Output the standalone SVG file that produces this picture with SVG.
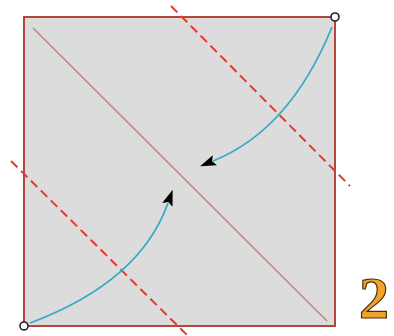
<svg xmlns="http://www.w3.org/2000/svg" width="394" height="336" viewBox="0 0 394 336">
<style>
.sq{fill:#dcdcdc;stroke:#b5463c;stroke-width:2}
.diag{stroke:#b98a7e;stroke-width:1.6;fill:none}
.dash{stroke:#e8382e;stroke-width:2;stroke-dasharray:9,5;fill:none}
.cur{stroke:#3aaac6;stroke-width:1.8;fill:none;marker-end:url(#ah)}
.pt{fill:#fff;stroke:#222;stroke-width:1.6}
.num{font-family:"Liberation Serif",serif;font-weight:bold;font-size:60px;fill:#f2a12a;stroke:#4a3010;stroke-width:1.2}
</style>
<defs>
<marker id="ah" viewBox="0 0 16 11" refX="2" refY="5.5" markerWidth="16" markerHeight="11" markerUnits="userSpaceOnUse" orient="auto">
<path d="M0,0 L16,5.5 L0,11 L3,5.5 Z" fill="#000"/>
</marker>
</defs>
<g id="paper">
<rect class="sq" x="24" y="17" width="311" height="309"/>
<line class="diag" x1="33" y1="28" x2="327" y2="321"/>
</g>
<g id="folds">
<line class="dash" x1="171" y1="6" x2="350" y2="186"/>
<line class="dash" x1="11" y1="161" x2="187" y2="335"/>
</g>
<g id="connectors">
<path class="cur" d="M332,27 Q290,130 213,161"/>
<path class="cur" d="M30,323 Q140,282 168,203"/>
</g>
<g id="corners">
<circle class="pt" cx="335" cy="17" r="4"/>
<circle class="pt" cx="24" cy="326" r="4"/>
</g>
<g id="label">
<text class="num" x="359" y="318">2</text>
</g>
</svg>
